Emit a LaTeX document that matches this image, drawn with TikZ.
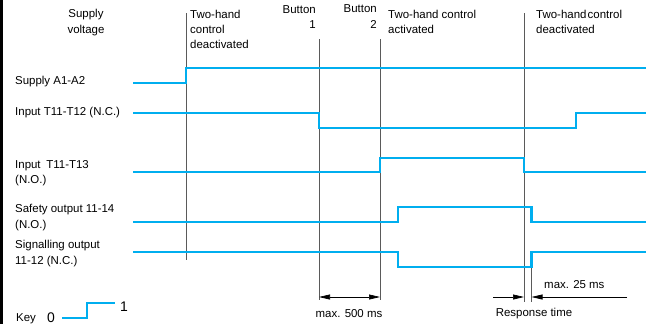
\documentclass[tikz,border=0pt]{standalone}
\usepackage{fontspec}
\setmainfont{Liberation Sans}
\usetikzlibrary{arrows.meta}
\definecolor{sig}{RGB}{0,174,239}
\definecolor{gridc}{RGB}{90,90,90}
\begin{document}
\begin{tikzpicture}[x=1bp,y=-1bp,
  sigline/.style={draw=sig,line width=2.6bp,line join=miter},
  marker/.style={draw=gridc,line width=0.9bp},
  lbl/.style={font=\fontsize{11.5}{14}\selectfont,inner sep=0pt,anchor=base west},
  lblc/.style={lbl,anchor=base},
  lble/.style={lbl,anchor=base east},
  big/.style={font=\fontsize{14}{16}\selectfont,inner sep=0pt,anchor=base west},
  dim/.style={draw=black,line width=0.7bp},
  tipend/.style={-{Triangle[length=11bp,width=5bp]}},
  tipboth/.style={{Triangle[length=11bp,width=5bp]}-{Triangle[length=11bp,width=5bp]}}]
\useasboundingbox (0,0) rectangle (650,324);
% left border
\draw[line width=3bp] (1.5,0) -- (1.5,324);

% header labels
\node[lblc] (sv1) at (86,17.5) {Supply};
\node[lblc] (sv2) at (86,33) {voltage};
\node[lbl] (d1a) at (190,18) {Two-hand};
\node[lbl] (d1b) at (190,33) {control};
\node[lbl] (d1c) at (190,48) {deactivated};
\node[lble] (b1a) at (316,13) {Button};
\node[lble] (b1b) at (316,28) {1};
\node[lble] (b2a) at (377,12) {Button};
\node[lble] (b2b) at (377,28) {2};
\node[lbl] (a1) at (388,18) {Two-hand control};
\node[lbl] (a2) at (388,33) {activated};
\node[lbl] (d2a) at (536,18) {Two-hand\hspace{1.2bp}control};
\node[lbl] (d2b) at (536,33) {deactivated};

% row labels
\node[lbl] (l1) at (15,84) {Supply A1-A2};
\node[lbl] (l2) at (15,115) {Input T11-T12 (N.C.)};
\node[lbl] (l3a) at (15,168) {Input\enspace T11-T13};
\node[lbl] (l3b) at (15,183) {(N.O.)};
\node[lbl] (l4a) at (15,212) {Safety output 11-14};
\node[lbl] (l4b) at (15,228) {(N.O.)};
\node[lbl] (l5a) at (15,248) {Signalling output};
\node[lbl] (l5b) at (15,264) {11-12 (N.C.)};

% vertical markers
\coordinate (m1t) at (186,13);  \coordinate (m1b) at (186,260);
\coordinate (m2t) at (319,39);  \coordinate (m2b) at (319,300);
\coordinate (m3t) at (380,39);  \coordinate (m3b) at (380,300);
\coordinate (m4t) at (524,13);  \coordinate (m4b) at (524,302);
\coordinate (m5t) at (531.5,267); \coordinate (m5b) at (531.5,302);
\draw[marker] (m1t) -- (m1b);
\draw[marker] (m2t) -- (m2b);
\draw[marker] (m3t) -- (m3b);
\draw[marker] (m4t) -- (m4b);
\draw[marker] (m5t) -- (m5b);

% signals
\draw[sigline] (133,83) -- (186,83) -- (186,68) -- (646,68);
\draw[sigline] (133,113) -- (319,113) -- (319,128) -- (576,128) -- (576,113) -- (646,113);
\draw[sigline] (133,172) -- (380,172) -- (380,158) -- (524,158) -- (524,172) -- (646,172);
\draw[sigline] (133,222) -- (398,222) -- (398,207) -- (531.5,207) -- (531.5,222) -- (646,222);
\draw[sigline] (133,252) -- (398,252) -- (398,267) -- (531.5,267) -- (531.5,252) -- (646,252);

% dimension arrows
\coordinate (a500l) at (319,297);
\coordinate (a500r) at (380,297);
\draw[dim,tipboth] (a500l) -- (a500r);
\node[lblc] (t500) at (349,317) {max. 500 ms};

\coordinate (rl0) at (493,297);
\coordinate (rl1) at (524,297);
\coordinate (rr0) at (627,297);
\coordinate (rr1) at (531.5,297);
\draw[dim,tipend] (rl0) -- (rl1);
\draw[dim,tipend] (rr0) -- (rr1);
\node[lbl] (t25) at (544,288) {max. 25 ms};
\node[lblc] (trt) at (534,316) {Response time};

% key
\node[lbl] (key) at (16,321) {Key};
\node[big] (k0) at (47,322.5) {0};
\draw[sigline] (62,318) -- (87,318) -- (87,303) -- (115,303);
\node[big] (k1) at (120,311) {1};
\end{tikzpicture}
\end{document}
